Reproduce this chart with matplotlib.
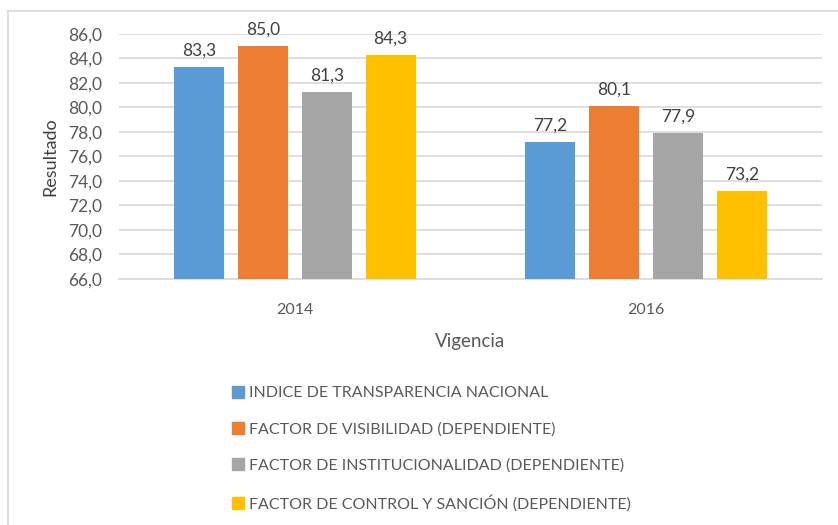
import matplotlib.pyplot as plt
import matplotlib.lines as mlines
import numpy as np

plt.rcParams['font.family'] = ['Lato', 'DejaVu Sans']

years = ['2014', '2016']
series = ['INDICE DE TRANSPARENCIA NACIONAL',
          'FACTOR DE VISIBILIDAD (DEPENDIENTE)',
          'FACTOR DE INSTITUCIONALIDAD (DEPENDIENTE)',
          'FACTOR DE CONTROL Y SANCIÓN (DEPENDIENTE)']
indice = [83.3, 77.2]
visibilidad = [85.0, 80.1]
institucionalidad = [81.3, 77.9]
control = [84.3, 73.2]
colors = ['#5B9BD5', '#ED7D31', '#A5A5A5', '#FFC000']

values = [indice, visibilidad, institucionalidad, control]
txt = '#595959'

fig = plt.figure(figsize=(8.38, 5.25), dpi=100)
ax = fig.add_axes([0.142, 0.4686, 0.839, 0.4667])

x = np.arange(len(years))
step = 0.182
width = 0.142
for i, vals in enumerate(values):
    pos = x + (i - 1.5) * step
    bars = ax.bar(pos, [v - 66 for v in vals], width, bottom=66, color=colors[i], zorder=3)
    for b, v in zip(bars, vals):
        ax.annotate(f'{v:.1f}'.replace('.', ','), (b.get_x() + b.get_width() / 2, v),
                    xytext=(0, 6), textcoords='offset points', ha='center', va='bottom',
                    fontsize=12.5, color='#404040')

ax.set_xlim(-0.5, 1.5)
ax.set_ylim(66, 86)
yt = np.arange(66, 87, 2)
ax.set_yticks(yt)
ax.set_yticklabels([f'{v:.1f}'.replace('.', ',') for v in yt], fontsize=12.5, color=txt)
ax.set_xticks(x)
ax.set_xticklabels(years, fontsize=11.5, color=txt)
ax.tick_params(length=0)
ax.tick_params(axis='y', pad=12)
ax.tick_params(axis='x', pad=17)
ax.grid(axis='y', color='#D9D9D9', linewidth=1.2, zorder=0)
for s in ['top', 'right', 'left']:
    ax.spines[s].set_visible(False)
ax.spines['bottom'].set_color('#D9D9D9')
ax.spines['bottom'].set_linewidth(1.2)

ax.set_ylabel('Resultado', fontsize=13, color='#404040', labelpad=7)
ax.set_xlabel('Vigencia', fontsize=13.5, color=txt, labelpad=12)

handles = [mlines.Line2D([], [], marker='s', linestyle='none', color=c, markersize=8)
           for c in colors]
fig.legend(handles, series, loc='upper left', bbox_to_anchor=(0.267, 0.28),
           frameon=False, fontsize=11.5, labelspacing=1.38, handlelength=0.8,
           handletextpad=0.3, labelcolor=txt, borderpad=0)

# chart border (top and left edges visible)
fig.add_artist(mlines.Line2D([8 / 838, 1], [1 - 11 / 525] * 2, color='#D9D9D9', linewidth=1.2))
fig.add_artist(mlines.Line2D([8 / 838] * 2, [0, 1 - 11 / 525], color='#D9D9D9', linewidth=1.2))

fig.savefig('out.png', dpi=100)
